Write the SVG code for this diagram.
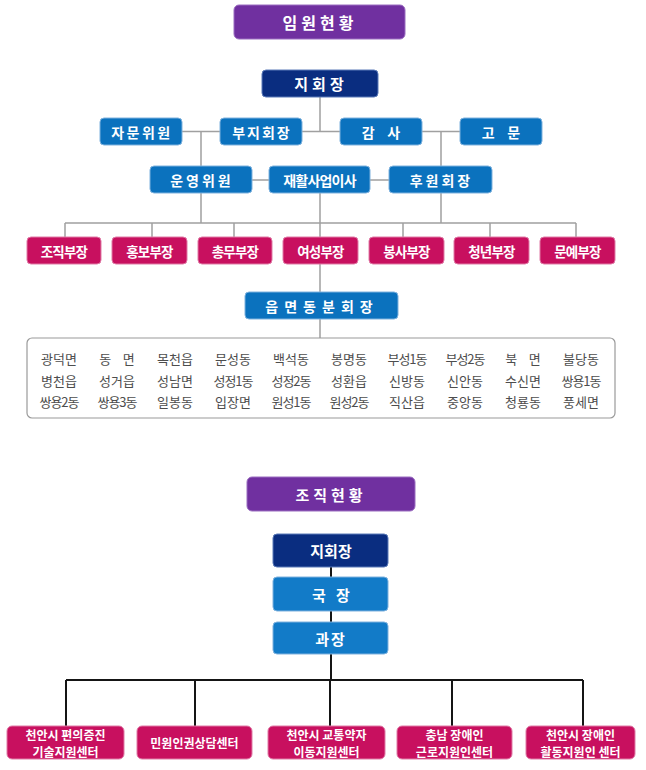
<svg xmlns="http://www.w3.org/2000/svg" width="646" height="770" viewBox="0 0 646 770">
<style>
.t{font-family:"Noto Sans CJK KR","Noto Sans",sans-serif;font-weight:bold;fill:#fff;text-anchor:middle;dominant-baseline:central}
.purple{fill:#7030a0;stroke:#9a6cc0;stroke-width:1}
.navy{fill:#0a2d80;stroke:#5a7ab8;stroke-width:1}
.blue{fill:#0b72be;stroke:#7fb2de;stroke-width:1}
.blue2{fill:#127bc8;stroke:#7fb2de;stroke-width:1}
.pink{fill:#c8105f;stroke:#e07aa6;stroke-width:1}
.gl{stroke:#a0a0a0;stroke-width:1.5;fill:none}
.bl{stroke:#151515;stroke-width:2;fill:none}
.li{font-family:"Noto Sans CJK KR","Noto Sans",sans-serif;font-size:13px;fill:#4d4d4d;text-anchor:middle;dominant-baseline:central;white-space:pre}
</style>
<rect width="646" height="770" fill="#fff"/>
<g id="connectors">
<path class="gl" d="M320 97V131.5M182 131.5H220M302 131.5H340M422 131.5H460M201 131.5V223M441 131.5V223M252 180H269M370 180H389M320 193V292M65 223H576M65 223V237M152 223V237M234 223V237M403 223V237M490 223V237M576 223V237M320 319V338"/>
<path class="bl" d="M331 567V577M331 611V622M331 654V680M66 680H583M66 680V726M195 680V726M330 680V726M452 680V726M583 680V726"/>
</g>
<g id="title1"><rect class="purple" x="234" y="5" width="171" height="34" rx="5"/><text class="t" x="320" y="22" font-size="16" letter-spacing="4">임원현황</text></g>
<g id="n-chief"><rect class="navy" x="262" y="70" width="116" height="27" rx="4"/><text class="t" x="321" y="83.5" font-size="15" letter-spacing="4">지회장</text></g>
<g id="n-advisory"><rect class="blue" x="100" y="118" width="82" height="27" rx="4"/><text class="t" x="142" y="131.5" font-size="14" letter-spacing="2.5">자문위원</text></g>
<g id="n-vice"><rect class="blue" x="220" y="118" width="82" height="27" rx="4"/><text class="t" x="262" y="131.5" font-size="14" letter-spacing="2">부지회장</text></g>
<g id="n-audit"><rect class="blue" x="340" y="118" width="82" height="27" rx="4"/><text class="t" x="381" y="131.5" font-size="14" xml:space="preserve">감    사</text></g>
<g id="n-counsel"><rect class="blue" x="460" y="118" width="82" height="27" rx="4"/><text class="t" x="501" y="131.5" font-size="14" xml:space="preserve">고    문</text></g>
<g id="n-steer"><rect class="blue" x="150" y="166" width="102" height="27" rx="4"/><text class="t" x="202" y="179.5" font-size="14" letter-spacing="3">운영위원</text></g>
<g id="n-rehab"><rect class="blue" x="269" y="166" width="101" height="27" rx="4"/><text class="t" x="319.5" y="179.5" font-size="14" letter-spacing="-0.8">재활사업이사</text></g>
<g id="n-sponsor"><rect class="blue" x="389" y="166" width="103" height="27" rx="4"/><text class="t" x="441.5" y="179.5" font-size="14" letter-spacing="3">후원회장</text></g>
<g id="d1"><rect class="pink" x="27" y="237" width="74" height="27" rx="4"/><text class="t" x="64" y="250.5" font-size="13.5" letter-spacing="-0.8">조직부장</text></g>
<g id="d2"><rect class="pink" x="112" y="237" width="75" height="27" rx="4"/><text class="t" x="149.5" y="250.5" font-size="13.5" letter-spacing="-0.8">홍보부장</text></g>
<g id="d3"><rect class="pink" x="198" y="237" width="74" height="27" rx="4"/><text class="t" x="235" y="250.5" font-size="13.5" letter-spacing="-0.8">총무부장</text></g>
<g id="d4"><rect class="pink" x="283" y="237" width="75" height="27" rx="4"/><text class="t" x="320.5" y="250.5" font-size="13.5" letter-spacing="-0.8">여성부장</text></g>
<g id="d5"><rect class="pink" x="369" y="237" width="75" height="27" rx="4"/><text class="t" x="406.5" y="250.5" font-size="13.5" letter-spacing="-0.8">봉사부장</text></g>
<g id="d6"><rect class="pink" x="454" y="237" width="75" height="27" rx="4"/><text class="t" x="491.5" y="250.5" font-size="13.5" letter-spacing="-0.8">청년부장</text></g>
<g id="d7"><rect class="pink" x="540" y="237" width="75" height="27" rx="4"/><text class="t" x="577.5" y="250.5" font-size="13.5" letter-spacing="-0.8">문예부장</text></g>
<g id="n-branch"><rect class="blue" x="245" y="292" width="153" height="27" rx="4"/><text class="t" x="322" y="305.5" font-size="14" letter-spacing="6">읍면동분회장</text></g>
<g id="n-list">
<rect x="27" y="338" width="588" height="80" rx="5" fill="#fff" stroke="#9a9a9a" stroke-width="1.2"/>
<text class="li" y="358"><tspan x="59">광덕면</tspan><tspan x="117">동    면</tspan><tspan x="175">목천읍</tspan><tspan x="233">문성동</tspan><tspan x="291">백석동</tspan><tspan x="349">봉명동</tspan><tspan x="407" letter-spacing="-1">부성1동</tspan><tspan x="465" letter-spacing="-1">부성2동</tspan><tspan x="523">북    면</tspan><tspan x="581">불당동</tspan></text>
<text class="li" y="380"><tspan x="59">병천읍</tspan><tspan x="117">성거읍</tspan><tspan x="175">성남면</tspan><tspan x="233" letter-spacing="-1">성정1동</tspan><tspan x="291" letter-spacing="-1">성정2동</tspan><tspan x="349">성환읍</tspan><tspan x="407">신방동</tspan><tspan x="465">신안동</tspan><tspan x="523">수신면</tspan><tspan x="581" letter-spacing="-1">쌍용1동</tspan></text>
<text class="li" y="401"><tspan x="59" letter-spacing="-1">쌍용2동</tspan><tspan x="117" letter-spacing="-1">쌍용3동</tspan><tspan x="175">일봉동</tspan><tspan x="233">입장면</tspan><tspan x="291" letter-spacing="-1">원성1동</tspan><tspan x="349" letter-spacing="-1">원성2동</tspan><tspan x="407">직산읍</tspan><tspan x="465">중앙동</tspan><tspan x="523">청룡동</tspan><tspan x="581">풍세면</tspan></text>
</g>
<g id="title2"><rect class="purple" x="247" y="477" width="168" height="34" rx="5"/><text class="t" x="331" y="494" font-size="15" letter-spacing="4">조직현황</text></g>
<g id="b-chief"><rect class="navy" x="273" y="534" width="115" height="33" rx="4"/><text class="t" x="331" y="550.5" font-size="15">지회장</text></g>
<g id="b-director"><rect class="blue2" x="273" y="577" width="115" height="34" rx="4"/><text class="t" x="331" y="594" font-size="15" xml:space="preserve">국   장</text></g>
<g id="b-manager"><rect class="blue2" x="273" y="622" width="115" height="32" rx="4"/><text class="t" x="331" y="638" font-size="15" letter-spacing="2">과장</text></g>
<g id="c1"><rect class="pink" x="7" y="726" width="117" height="33" rx="5"/><text class="t" x="65.5" y="734" font-size="12">천안시 편의증진</text><text class="t" x="65.5" y="751" font-size="12">기술지원센터</text></g>
<g id="c2"><rect class="pink" x="137" y="726" width="115" height="33" rx="5"/><text class="t" x="194.5" y="742.5" font-size="12">민원인권상담센터</text></g>
<g id="c3"><rect class="pink" x="268" y="726" width="117" height="33" rx="5"/><text class="t" x="326.5" y="734" font-size="12">천안시 교통약자</text><text class="t" x="326.5" y="751" font-size="12">이동지원센터</text></g>
<g id="c4"><rect class="pink" x="397" y="726" width="115" height="33" rx="5"/><text class="t" x="454.5" y="734" font-size="12">충남 장애인</text><text class="t" x="454.5" y="751" font-size="12">근로지원인센터</text></g>
<g id="c5"><rect class="pink" x="526" y="726" width="109" height="33" rx="5"/><text class="t" x="580.5" y="734" font-size="12">천안시 장애인</text><text class="t" x="580.5" y="751" font-size="12">활동지원인 센터</text></g>
</svg>
